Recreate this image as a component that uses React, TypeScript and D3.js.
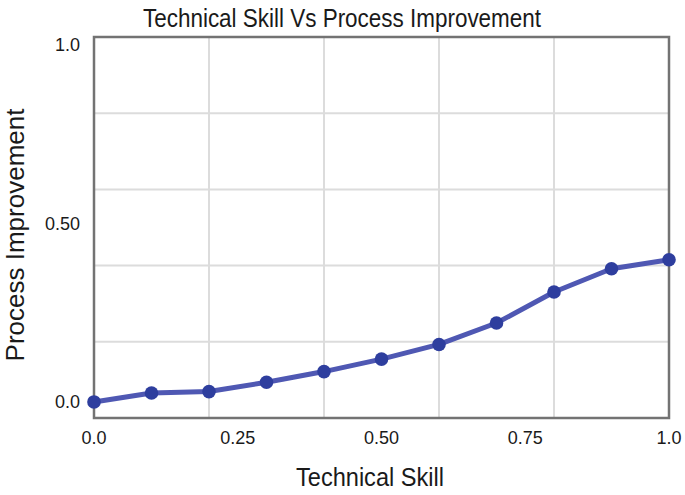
import React from 'react';
import * as d3 from 'd3';

const skill = [0, 0.1, 0.2, 0.3, 0.4, 0.5, 0.6, 0.7, 0.8, 0.9, 1.0];
const improvement = [0, 0.025, 0.029, 0.055, 0.085, 0.12, 0.161, 0.221, 0.308, 0.373, 0.398];
const xTicks = [0, 0.25, 0.5, 0.75, 1.0];
const xTickLabels = ['0.0', '0.25', '0.50', '0.75', '1.0'];
const yTicks = [0, 0.5, 1.0];
const yTickLabels = ['0.0', '0.50', '1.0'];
const xGrid = [0.2, 0.4, 0.6, 0.8];

const W = 685;
const H = 495;
const margin = {top: 37, right: 16, bottom: 77, left: 94};
const font = 'Arial, "Liberation Sans", Helvetica, sans-serif';

const App = () => {
    const x = d3.scaleLinear().domain([0, 1]).range([margin.left, W - margin.right]);
    const y = d3.scaleLinear().domain([-0.045, 1.022]).range([H - margin.bottom, margin.top]);
    const [lo, hi] = y.domain();
    const yGrid = d3.range(1, 5).map(i => lo + i * (hi - lo) / 5);

    const pts = skill.map((s, i) => [s, improvement[i]] as [number, number]);
    const line = d3.line<[number, number]>().x(d => x(d[0])).y(d => y(d[1]));

    return (
        <svg width={W} height={H} style={{position: 'absolute', left: 0, top: 0, background: '#fff'}}
             fontFamily={font}>
            <text x={143} y={27} fontSize={25} fill="#1a1a1a" textLength={398}
                  lengthAdjust="spacingAndGlyphs">
                Technical Skill Vs Process Improvement
            </text>
            <g stroke="#dcdcdc" strokeWidth={2}>
                {xGrid.map(v => <line key={'gx' + v} x1={x(v)} x2={x(v)} y1={y(lo)} y2={y(hi)}/>)}
                {yGrid.map(v => <line key={'gy' + v} x1={x(0)} x2={x(1)} y1={y(v)} y2={y(v)}/>)}
            </g>
            <rect x={x(0)} y={y(hi)} width={x(1) - x(0)} height={y(lo) - y(hi)}
                  fill="none" stroke="#737373" strokeWidth={2.5}/>
            <path d={line(pts) || ''} fill="none" stroke="#4f58b3" strokeWidth={5}
                  strokeLinejoin="round"/>
            {pts.map((d, i) => <circle key={i} cx={x(d[0])} cy={y(d[1])} r={6.8} fill="#2e3e9e"/>)}
            {xTicks.map((v, i) => (
                <text key={'xt' + v} x={x(v)} y={y(lo) + 26} textAnchor="middle" fontSize={18}
                      fill="#1a1a1a">{xTickLabels[i]}</text>
            ))}
            {yTicks.map((v, i) => (
                <text key={'yt' + v} x={x(0) - 14} y={y(v)} dy="0.35em" textAnchor="end" fontSize={18}
                      fill="#1a1a1a">{yTickLabels[i]}</text>
            ))}
            <text x={296} y={486} fontSize={25} fill="#1a1a1a" textLength={148}
                  lengthAdjust="spacingAndGlyphs">Technical Skill</text>
            <text transform={`translate(24, 235) rotate(-90)`} textAnchor="middle" fontSize={26}
                  fill="#1a1a1a">Process Improvement</text>
        </svg>
    );
};

export default App;
